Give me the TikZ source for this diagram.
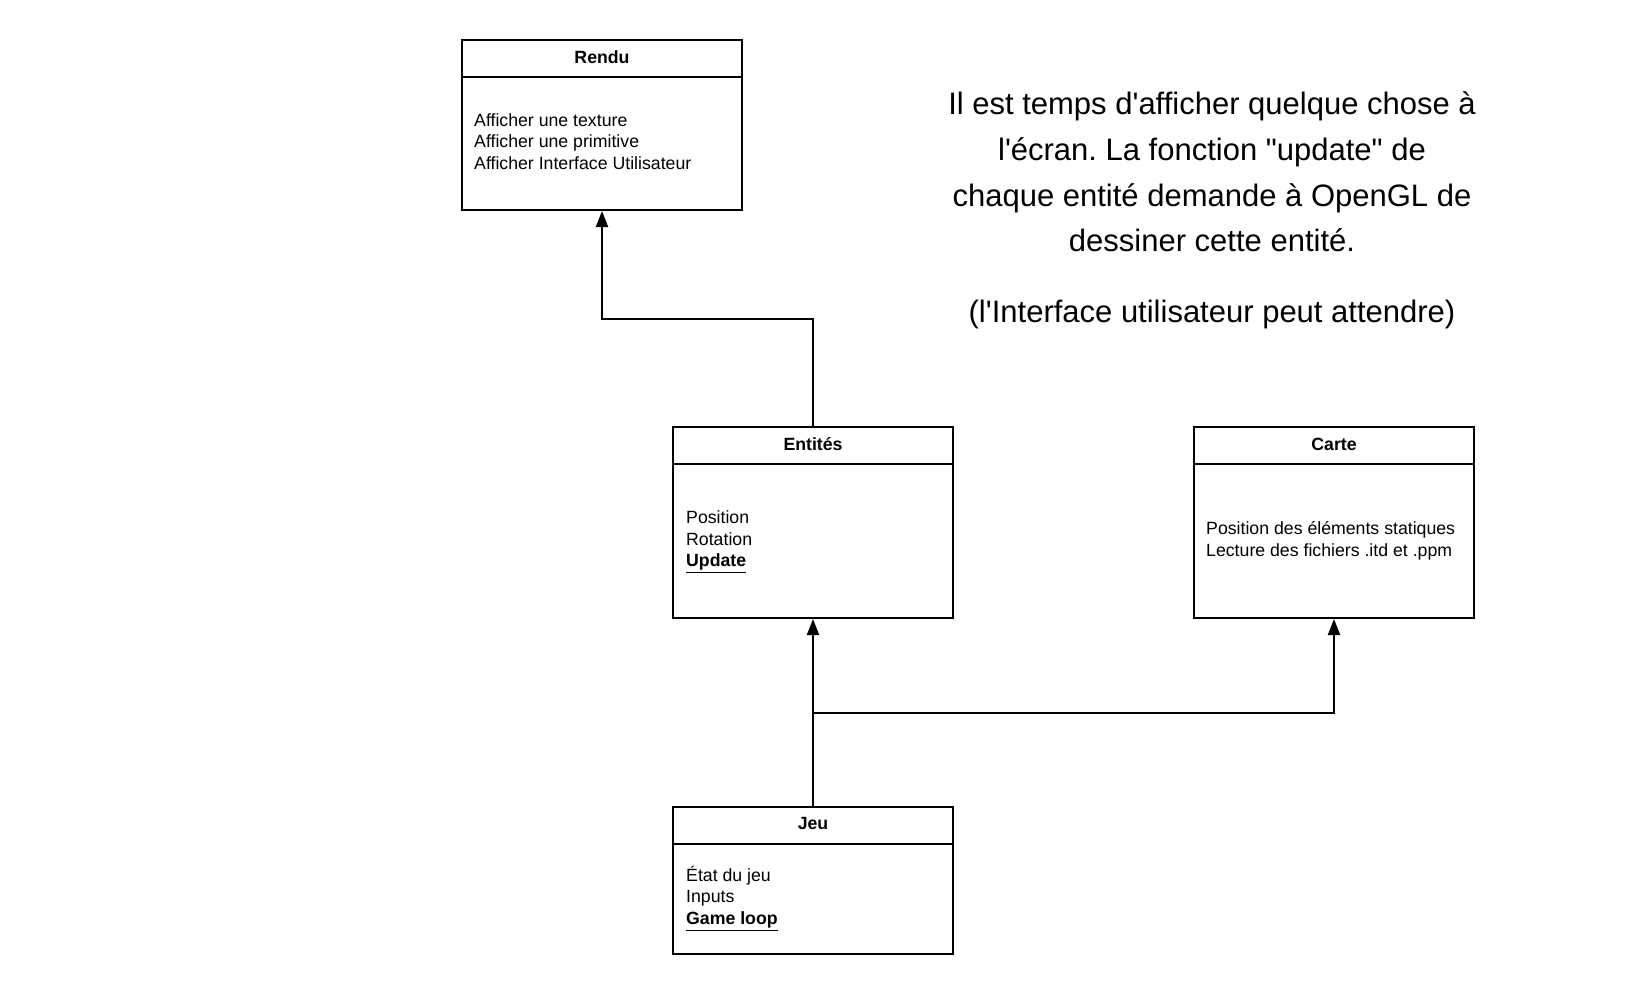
\documentclass[tikz,border=0pt]{standalone}
\usepackage{fontspec}
\setmainfont{Liberation Sans}[Ligatures=TeXOff]
\usetikzlibrary{arrows.meta}
\frenchspacing
\begin{document}
\begin{tikzpicture}[x=1pt,y=-1pt,
  box/.style={draw=black, line width=2pt, minimum width=280pt, inner sep=0pt},
  sepline/.style={draw=black, line width=2pt},
  conn/.style={draw=black, line width=2pt, -{Triangle[length=16pt,width=12pt]}},
  hdr/.style={font=\fontsize{17.7pt}{21.8pt}\selectfont\bfseries, inner sep=0pt},
  bodytxt/.style={font=\fontsize{17.7pt}{21.8pt}\selectfont, align=left, anchor=west, inner sep=0pt},
  big/.style={font=\fontsize{31pt}{45.7pt}\selectfont, align=center, inner sep=0pt}]
\useasboundingbox (0,0) rectangle (1626,994);
\fill[white] (0,0) rectangle (1626,994);

% Rendu
\node[box, minimum height=170pt] (rendu) at (602,125) {};
\draw[sepline] ([yshift=-38pt]rendu.north west) -- ([yshift=-38pt]rendu.north east);
\node[hdr] (renduT) at ([yshift=-18pt]rendu.north) {Rendu};
\node[bodytxt] (renduB) at (474,141.5) {Afficher une texture\\Afficher une primitive\\Afficher Interface Utilisateur};

% Entites
\node[box, minimum height=191pt] (ent) at (813,522.5) {};
\draw[sepline] ([yshift=-38pt]ent.north west) -- ([yshift=-38pt]ent.north east);
\node[hdr] (entT) at ([yshift=-18pt]ent.north) {Entités};
\node[bodytxt] (entB) at (686,541.5) {Position\\Rotation\\\underline{\textbf{Update}}};

% Carte
\node[box, minimum height=191pt] (carte) at (1334,522.5) {};
\draw[sepline] ([yshift=-38pt]carte.north west) -- ([yshift=-38pt]carte.north east);
\node[hdr] (carteT) at ([yshift=-18pt]carte.north) {Carte};
\node[bodytxt] (carteB) at (1206,540.5) {Position des éléments statiques\\Lecture des fichiers .itd et .ppm};

% Jeu
\node[box, minimum height=147pt] (jeu) at (813,880) {};
\draw[sepline] ([yshift=-38pt]jeu.north west) -- ([yshift=-38pt]jeu.north east);
\node[hdr] (jeuT) at ([yshift=-18pt]jeu.north) {Jeu};
\node[bodytxt] (jeuB) at (686,898) {État du jeu\\Inputs\\\underline{\textbf{Game loop}}};

% connectors
\draw[conn] (jeu.north) -- (ent.south);
\coordinate (split) at (813,713);
\draw[conn] (split) -| (carte.south);
\draw[conn] (ent.north) -- ++(0,-107) -| (rendu.south);

% note
\node[big] (note) at (1212,172) {Il est temps d'afficher quelque chose à\\l'écran. La fonction "update" de\\chaque entité demande à OpenGL de\\dessiner cette entité.};
\node[big] (note2) at (1212,314) {(l'Interface utilisateur peut attendre)};
\end{tikzpicture}
\end{document}
